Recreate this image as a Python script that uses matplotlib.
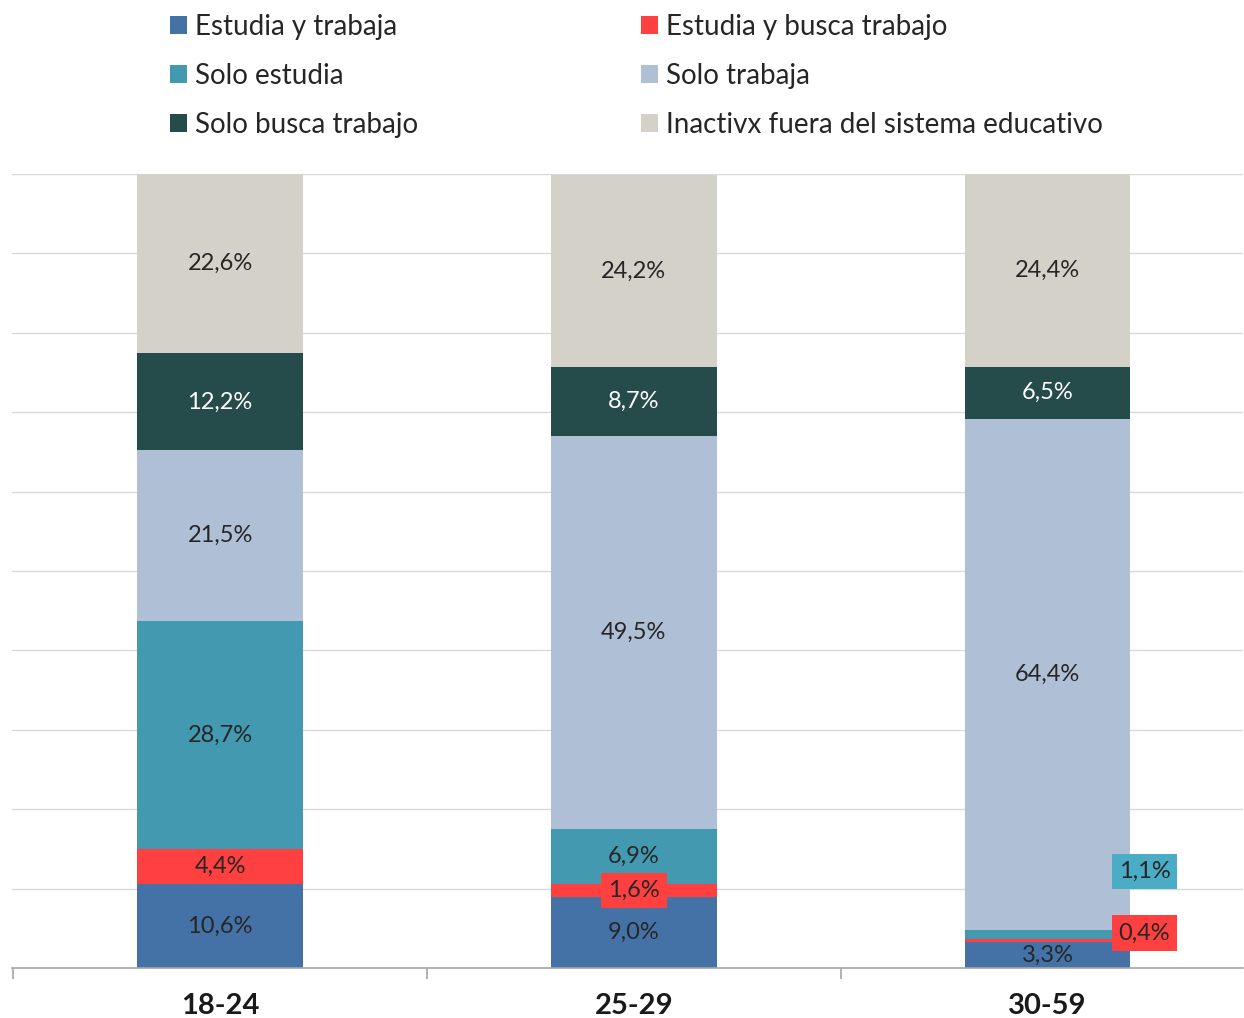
import matplotlib
matplotlib.use("Agg")
import matplotlib.pyplot as plt
from matplotlib.patches import Patch
import numpy as np

plt.rcParams['font.family'] = ['Lato', 'DejaVu Sans']

categories = ["18-24", "25-29", "30-59"]
series_names = ["Estudia y trabaja", "Estudia y busca trabajo", "Solo estudia",
                "Solo trabaja", "Solo busca trabajo", "Inactivx fuera del sistema educativo"]
estudia_y_trabaja = [10.6, 9.0, 3.3]
estudia_y_busca = [4.4, 1.6, 0.4]
solo_estudia = [28.7, 6.9, 1.1]
solo_trabaja = [21.5, 49.5, 64.4]
solo_busca = [12.2, 8.7, 6.5]
inactivx = [22.6, 24.2, 24.4]

series = [estudia_y_trabaja, estudia_y_busca, solo_estudia, solo_trabaja, solo_busca, inactivx]
colors = ["#4472A6", "#FF4040", "#4299B0", "#AFBFD5", "#264B4B", "#D4D1C8"]
text_colors = ["#262626", "#262626", "#262626", "#262626", "#FFFFFF", "#262626"]

fig = plt.figure(figsize=(12.44, 10.18), dpi=100)
ax = fig.add_axes([12/1244, 1-968/1018, 1231/1244, (968-174)/1018])

x = np.arange(len(categories))
width = 0.40
lab_fs = 17
bottom = np.zeros(len(categories))
for i, (vals, c) in enumerate(zip(series, colors)):
    vals = np.array(vals)
    ax.bar(x, vals, width, bottom=bottom, color=c, zorder=2, linewidth=0)
    for j, v in enumerate(vals):
        label = f"{v:.1f}".replace(".", ",") + "%"
        yc = bottom[j] + v / 2
        if j == 2 and i in (1, 2):
            # small segments labeled to the right of bar with boxes
            ly = 4.4 if i == 1 else 12.2
            box_c = "#FF4040" if i == 1 else "#4BACC6"
            ax.text(x[j] + 0.234, ly, label, ha="center", va="center",
                    fontsize=lab_fs, color="#262626", zorder=4,
                    bbox=dict(boxstyle="square,pad=0.3", fc=box_c, ec="none"))
        elif j == 1 and i == 1:
            ax.text(x[j], yc, label, ha="center", va="center",
                    fontsize=lab_fs, color="#262626", zorder=4,
                    bbox=dict(boxstyle="square,pad=0.3", fc="#FF4040", ec="none"))
        else:
            ax.text(x[j], yc, label, ha="center", va="center",
                    fontsize=lab_fs, color=text_colors[i], zorder=4)
    bottom += vals

ax.set_ylim(0, 100)
ax.set_xlim(-0.503, 2.472)
ax.set_yticks(np.arange(0, 101, 10))
ax.set_yticklabels([])
ax.tick_params(axis="y", length=0)
ax.yaxis.grid(True, color="#D9D9D9", linewidth=1, zorder=0)
ax.set_axisbelow(True)
for s in ["left", "right", "top"]:
    ax.spines[s].set_visible(False)
ax.spines["bottom"].set_color("#A6A6A6")
ax.spines["bottom"].set_linewidth(1.2)
ax.spines["bottom"].set_zorder(3)

ax.set_xticks([-0.5, 0.5, 1.5], minor=False)
ax.set_xticklabels([])
ax.tick_params(axis="x", which="major", length=8, color="#A6A6A6", width=1.2, direction="out")
ax.set_xticks(x, minor=True)
ax.set_xticklabels(categories, minor=True, fontsize=21, fontweight="bold", color="#1a1a1a")
ax.tick_params(axis="x", which="minor", length=0, pad=18)

# legend in two columns, row-major order
col1 = [0, 2, 4]
col2 = [1, 3, 5]
h1 = [Patch(facecolor=colors[i], edgecolor="none") for i in col1]
h2 = [Patch(facecolor=colors[i], edgecolor="none") for i in col2]
common = dict(frameon=False, fontsize=20, handlelength=0.6, handleheight=0.6,
              handletextpad=0.3, labelspacing=0.82, borderaxespad=0, borderpad=0)
leg1 = fig.legend(h1, [series_names[i] for i in col1], loc="upper left",
                  bbox_to_anchor=(170/1244, 1-14/1018), **common)
leg2 = fig.legend(h2, [series_names[i] for i in col2], loc="upper left",
                  bbox_to_anchor=(641/1244, 1-14/1018), **common)
for leg in (leg1, leg2):
    for t in leg.get_texts():
        t.set_color("#262626")

fig.savefig("out.png", dpi=100)
